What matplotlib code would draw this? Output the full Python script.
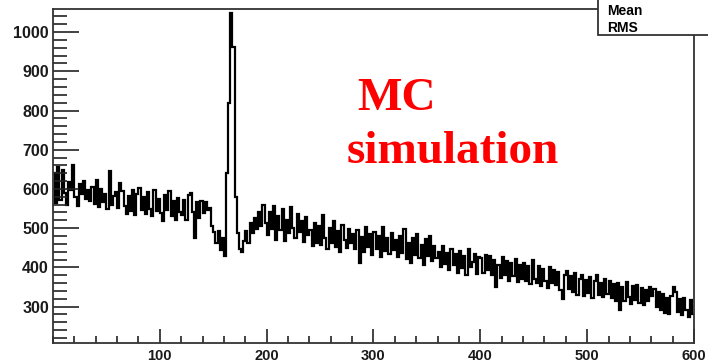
import numpy as np
import matplotlib.pyplot as plt
from matplotlib.patches import Rectangle
from matplotlib.ticker import MultipleLocator

# histogram contents, 2 units per bin from 0 to 600 (one row = 40 units)
counts = [
    640, 565, 655, 572, 648, 590, 560, 618, 598, 660, 580, 556, 612, 588, 620, 575, 598, 568, 606, 562,
    622, 553, 600, 566, 588, 548, 646, 560, 583, 591, 552, 615, 596, 556, 536, 582, 543, 597, 534, 588,
    602, 546, 580, 537, 592, 550, 530, 598, 543, 575, 538, 518, 584, 547, 594, 532, 570, 522, 577, 540,
    534, 571, 520, 584, 590, 540, 476, 566, 527, 570, 539, 566, 545, 552, 505, 490, 462, 492, 445, 475,
    430, 640, 819, 1049, 962, 580, 487, 448, 440, 466, 492, 462, 512, 488, 527, 497, 540, 505, 558, 512,
    482, 541, 498, 556, 471, 530, 494, 549, 468, 522, 487, 553, 501, 474, 537, 489, 518, 465, 528, 483,
    496, 455, 512, 463, 505, 458, 534, 476, 447, 501, 462, 518, 451, 492, 440, 509, 470, 449, 498, 461,
    486, 446, 494, 412, 477, 438, 503, 452, 484, 431, 491, 447, 479, 426, 502, 441, 474, 433, 488, 444,
    471, 427, 480, 436, 497, 421, 462, 410, 476, 431, 485, 424, 458, 406, 472, 429, 481, 417, 455, 425,
    440, 401, 455, 408, 437, 394, 448, 405, 433, 386, 442, 399, 430, 381, 446, 402, 413, 435, 384, 427,
    424, 385, 432, 394, 428, 380, 419, 350, 407, 372, 426, 381, 415, 366, 410, 377, 421, 363, 405, 371,
    411, 365, 403, 357, 420, 371, 360, 404, 352, 397, 366, 347, 401, 359, 392, 354, 388, 343, 318, 381,
    390, 345, 377, 337, 385, 330, 371, 380, 326, 368, 335, 375, 322, 364, 381, 329, 361, 325, 370, 332,
    365, 321, 358, 315, 360, 290, 350, 313, 363, 324, 306, 353, 317, 356, 310, 347, 303, 342, 314, 350,
    328, 345, 299, 337, 292, 332, 284, 321, 280, 327, 350, 336, 286, 318, 279, 323, 291, 274, 316, 282,
]
x_min, x_max = 0, 600
edges = np.linspace(x_min, x_max, len(counts) + 1)

stat_labels = ["Mean", "RMS"]

fig = plt.figure(figsize=(7.08, 3.62), dpi=100)
ax = fig.add_axes([53 / 708, 19 / 362, 641 / 708, 334 / 362])

ax.stairs(counts, edges, baseline=None, color="black", linewidth=1.6)

ax.set_xlim(x_min, x_max)
ax.set_ylim(207, 1059)

ax.xaxis.set_minor_locator(MultipleLocator(20))
ax.yaxis.set_minor_locator(MultipleLocator(20))
ax.set_yticks([300, 400, 500, 600, 700, 800, 900, 1000])
ax.set_xticks([100, 200, 300, 400, 500, 600])

ax.tick_params(axis="both", which="both", direction="in", color="#222222",
               width=1.2, top=False, right=False)
ax.tick_params(axis="y", which="major", length=19, pad=3)
ax.tick_params(axis="y", which="minor", length=10)
ax.tick_params(axis="x", which="major", length=10, pad=4)
ax.tick_params(axis="x", which="minor", length=5)
for lab in ax.get_xticklabels():
    lab.set_fontfamily("Liberation Sans")
    lab.set_fontweight("bold")
    lab.set_fontsize(10.5)
    lab.set_color("#1a1a1a")
for lab in ax.get_yticklabels():
    lab.set_fontfamily("Liberation Sans")
    lab.set_fontweight("bold")
    lab.set_fontsize(11.5)
    lab.set_color("#1a1a1a")

for sp in ax.spines.values():
    sp.set_linewidth(1.3)
    sp.set_color("#333333")

# red annotation
fig.text(357 / 708, (362 - 110) / 362, "MC", color="red", fontsize=34,
         fontfamily="Liberation Serif", fontweight="bold", va="baseline", ha="left")
fig.text(347 / 708, (362 - 163) / 362, "simulation", color="red", fontsize=34,
         fontfamily="Liberation Serif", fontweight="bold", va="baseline", ha="left")

# stats box, cut off at the top right corner
box = Rectangle((598 / 708, (362 - 35) / 362), 0.2, 0.2, transform=fig.transFigure,
                facecolor="white", edgecolor="#333333", linewidth=1.3, zorder=5)
fig.add_artist(box)
for i, s in enumerate(stat_labels):
    fig.text(607 / 708, (362 - 11 - 17 * i) / 362, s, fontsize=10,
             fontfamily="Liberation Sans", fontweight="bold", va="center",
             ha="left", zorder=6)

fig.savefig("out.png", dpi=100)
